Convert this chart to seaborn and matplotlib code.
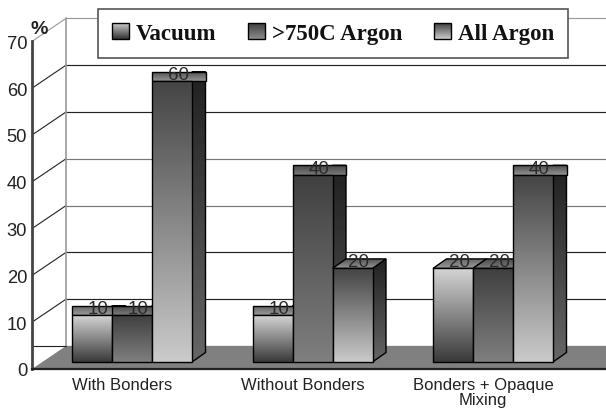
#!/usr/bin/env python3
"""Pseudo-3D grouped bar chart of vacuum vs argon results."""

from __future__ import annotations

import numpy as np
import pandas as pd
import seaborn as sns
from matplotlib import pyplot as plt
from matplotlib.patches import Polygon

groups = ["With Bonders", "Without Bonders", "Bonders + Opaque\nMixing"]
series = ["Vacuum", ">750C Argon", "All Argon"]
vacuum = [10, 10, 20]
argon_750 = [10, 40, 20]
argon_all = [60, 20, 40]
y_ticks = [0, 10, 20, 30, 40, 50, 60, 70]

W, H = 606, 410
PX_Y = 46.8 / 10  # pixels per percent
PX_X = 180.5  # pixels per category

# grey levels (top, bottom) per series
FRONT = {"Vacuum": (0.83, 0.23), ">750C Argon": (0.25, 0.50), "All Argon": (0.27, 0.79)}
SIDE = {"Vacuum": (0.15, 0.35), ">750C Argon": (0.13, 0.33), "All Argon": (0.13, 0.40)}
TOP = {"Vacuum": (0.38, 0.60), ">750C Argon": (0.28, 0.48), "All Argon": (0.30, 0.58)}
SWATCH = {"Vacuum": (0.80, 0.20), ">750C Argon": (0.25, 0.55), "All Argon": (0.25, 0.80)}


def face(ax, verts, shades, z, edge=True):
    """Fill a polygon with a vertical grey gradient."""
    verts = np.asarray(verts)
    x0, x1 = verts[:, 0].min(), verts[:, 0].max()
    y0, y1 = verts[:, 1].min(), verts[:, 1].max()
    ramp = np.linspace(shades[0], shades[1], 64)[:, None]
    im = ax.imshow(ramp, extent=(x0, x1, y0, y1), cmap="gray", vmin=0, vmax=1,
                   aspect="auto", origin="upper", zorder=z, interpolation="bilinear")
    poly = Polygon(verts, closed=True, facecolor="none", zorder=z + 0.001,
                   edgecolor="black" if edge else "none", linewidth=1.0)
    ax.add_patch(poly)
    im.set_clip_path(poly)


sns.set_style("white")
plt.rcParams["font.family"] = ["Liberation Sans", "DejaVu Sans"]

df = pd.DataFrame({
    "group": groups * 3,
    "series": np.repeat(series, 3),
    "value": vacuum + argon_750 + argon_all,
})

fig = plt.figure(figsize=(W / 100, H / 100), dpi=100)
ax = fig.add_axes([32 / W, 40 / H, (W - 32) / W, (H - 40) / H])

floor_front = 7 / PX_Y  # bars stand a little behind the axis line
sns.barplot(data=df, x="group", y="value", hue="series", order=groups, hue_order=series,
            width=120 / PX_X, gap=0, dodge=True, bottom=floor_front, legend=False,
            palette=["#999999", "#666666", "#888888"], errorbar=None, ax=ax)

x_left = -100 / PX_X
x_right = x_left + (W - 32) / PX_X
y_top = 370 / PX_Y
wall_dx = 34 / PX_X
wall_dy = 23 / PX_Y
dx = 13.5 / PX_X
dy = 9.5 / PX_Y

# floor
ax.add_patch(Polygon([(x_left, 0), (x_left + wall_dx, wall_dy), (x_right, wall_dy), (x_right, 0)],
                     closed=True, facecolor="#808080", edgecolor="none", zorder=1))

# walls
for t in y_ticks:
    grey = "#999999" if t == 70 else ("#777777" if t in (30, 40) else "#222222")
    ax.plot([x_left + wall_dx, x_right], [t + wall_dy, t + wall_dy], color=grey, lw=0.85, zorder=0.5)
    if t > 0:
        ax.plot([x_left, x_left + wall_dx], [t, t + wall_dy], color="#222222" if t < 70 else "#999999",
                lw=0.8, zorder=0.5)
ax.plot([x_left, x_left + wall_dx], [wall_dy, wall_dy], color="#222222", lw=0.8, zorder=1.5)
ax.plot([x_left + wall_dx] * 2, [wall_dy, 70 + wall_dy], color="#999999", lw=1.2, zorder=0.6)

# bars, painted left to right
bars = []
for name, cont in zip(series, ax.containers):
    bars += [(b, name) for b in cont]
bars.sort(key=lambda item: item[0].get_x())

for i, (bar, name) in enumerate(bars):
    x0 = bar.get_x()
    x1 = x0 + bar.get_width()
    y0 = bar.get_y()
    y1 = y0 + bar.get_height()
    z = 3 + i * 0.1
    # the source only shows slanted caps on the 20 bars, the others look squared off
    slant = bar.get_height() == 20
    cap_in = dx if slant else 0
    side_in = 0 if slant else dy
    face(ax, [(x1, y0), (x1 + dx, y0 + dy), (x1 + dx, y1 + dy), (x1, y1 + side_in)], SIDE[name], z)
    face(ax, [(x0, y1), (x1 + (0 if slant else dx), y1), (x1 + dx, y1 + dy), (x0 + cap_in, y1 + dy)],
         TOP[name], z + 0.01)
    face(ax, [(x0, y0), (x1, y0), (x1, y1), (x0, y1)], FRONT[name], z + 0.02)
    bar.set_visible(False)
    ax.annotate(f"{bar.get_height():.0f}", xy=(x0 + (x1 - x0) / 2, y1), xytext=(4.5, 1.6),
                textcoords="offset points", ha="center", va="baseline", fontsize=13.5,
                color="#2a2a2a", zorder=30)

# axes
ax.set_xlim(x_left, x_right)
ax.set_ylim(0, y_top)
ax.set_xlabel("")
ax.set_ylabel("")
ax.patch.set_alpha(0)
for s in ["top", "right"]:
    ax.spines[s].set_visible(False)
ax.spines["left"].set_bounds(0, 70)
ax.spines["left"].set_linewidth(2.0)
ax.spines["left"].set_color("#444444")
ax.spines["left"].set_zorder(5)
ax.spines["bottom"].set_linewidth(1.6)
ax.spines["bottom"].set_color("#222222")
ax.spines["bottom"].set_zorder(5)
ax.set_yticks(y_ticks)
ax.tick_params(axis="y", length=0, pad=3.5, labelsize=13.2, labelcolor="#222222", left=False)
centres = np.arange(3) - 10 / PX_X
ax.set_xticks(centres)
ax.set_xticklabels(groups, fontsize=12, color="#222222", linespacing=1.0)
ax.tick_params(axis="x", length=0, pad=6, bottom=False)
ax.set_xticks(list(centres + 0.5), minor=True)
ax.tick_params(axis="x", which="minor", direction="in", length=4.5, width=0.9, color="#222222", bottom=True)

ax.text(39 / W, 1 - 30 / H, "%", transform=fig.transFigure, fontsize=14, fontweight="bold",
        ha="center", va="center", color="#222222", zorder=30)

# legend
handles = [c[0] for c in ax.containers]
for h in handles:
    h.set_visible(True)
leg = ax.legend(handles, series, loc="upper left", ncol=3, mode="expand",
                bbox_to_anchor=(98 / W, 1 - 60 / H, 470 / W, 50 / H), bbox_transform=fig.transFigure,
                borderaxespad=0, borderpad=0.6, handlelength=0.75, handleheight=0.68, handletextpad=0.3,
                columnspacing=1.0, fancybox=False, shadow=False, framealpha=1, edgecolor="#555555",
                prop={"family": "Liberation Serif", "weight": "bold", "size": 16.5})
leg.get_frame().set_linewidth(1.2)
leg.set_zorder(10)
for text in leg.get_texts():
    text.set_color("#111111")

for h in handles:
    h.set_visible(False)
fig.canvas.draw()
inv = ax.transData.inverted()
for handle, name in zip(leg.legend_handles, series):
    handle.set_visible(True)
    ext = handle.get_window_extent(fig.canvas.get_renderer())
    (a, b), (c, d) = inv.transform([(ext.x0, ext.y0), (ext.x1, ext.y1)])
    face(ax, [(a, b), (c, b), (c, d), (a, d)], SWATCH[name], 11)
ax.set_xlim(x_left, x_right)
ax.set_ylim(0, y_top)

fig.savefig("out.png", dpi=100)
plt.close(fig)
